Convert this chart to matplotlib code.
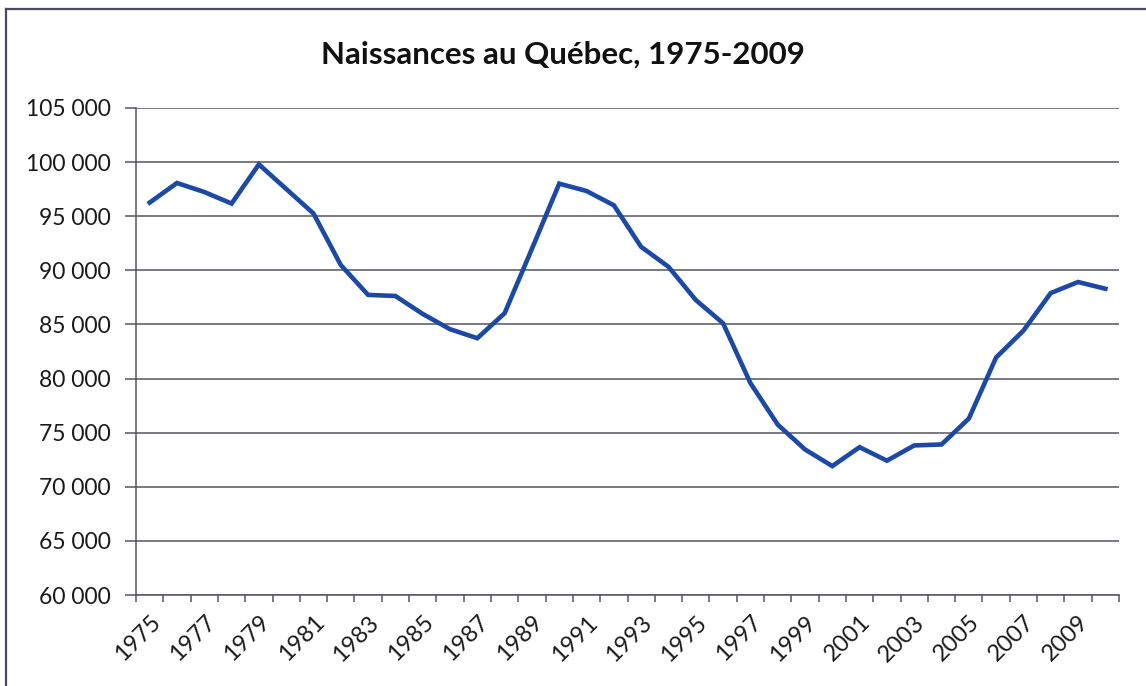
import matplotlib
matplotlib.use("Agg")
import matplotlib.pyplot as plt
from matplotlib.lines import Line2D
import numpy as np

# births per year
years = list(range(1975, 2011))
births = [96260, 98070, 97240, 96170, 99790, 97520, 95250, 90490, 87730, 87630,
          85970, 84560, 83730, 86040, 91990, 98010, 97330, 96010, 92170, 90330,
          87260, 85110, 79590, 75750, 73450, 71910, 73660, 72410, 73820, 73910,
          76300, 81950, 84430, 87900, 88920, 88300]
y_ticks = list(range(60000, 105001, 5000))
label_years = years[::2]

plt.rcParams['font.family'] = ['Lato', 'DejaVu Sans']
line_col = '#1c48a6'
grid_col = '#55555f'

fig = plt.figure(figsize=(11.46, 6.86), dpi=100)
ax = fig.add_axes([136/1146, 1-595/686, (1119-136)/1146, (595-108)/686])

x = np.arange(len(years))
ax.plot(x, births, color=line_col, lw=3.3, solid_joinstyle='miter', zorder=5)

ax.set_xlim(-0.5, len(years)-0.5)
ax.set_ylim(y_ticks[0], y_ticks[-1])

ax.set_yticks(y_ticks)
ax.set_yticklabels([f"{v:,}".replace(",", " ") for v in y_ticks], fontsize=16.5, color='#1a1a1a')
ax.yaxis.grid(True, color=grid_col, lw=1.1)
ax.set_axisbelow(True)
ax.tick_params(axis='y', length=8, width=1.1, color=grid_col, pad=10)

idx = [years.index(yy) for yy in label_years]
ax.set_xticks(idx)
ax.set_xticklabels([str(yy) for yy in label_years], fontsize=17, color='#1a1a1a',
                   rotation=45, ha='right', va='top', rotation_mode='anchor')
ax.set_xticks(np.arange(-0.5, len(years)), minor=True)
ax.tick_params(axis='x', which='major', length=0, pad=12)
ax.tick_params(axis='x', which='minor', length=5, width=1.1, color=grid_col)

for s in ['top', 'right']:
    ax.spines[s].set_visible(False)
for s in ['left', 'bottom']:
    ax.spines[s].set_color(grid_col)
    ax.spines[s].set_linewidth(1.1)

fig.text(563/1146, 1-55/686, "Naissances au Québec, 1975-2009", fontsize=22.5,
         fontweight='bold', ha='center', va='center', color='#111111')

# chart area border (cropped on right and bottom in the scan)
fig.add_artist(Line2D([6/1146, 6/1146], [0, 1-9/686], transform=fig.transFigure,
                      color='#4a4a66', lw=1.6))
fig.add_artist(Line2D([6/1146, 1], [1-9/686, 1-9/686], transform=fig.transFigure,
                      color='#4a4a66', lw=1.6))

fig.savefig("out.png", dpi=100)
